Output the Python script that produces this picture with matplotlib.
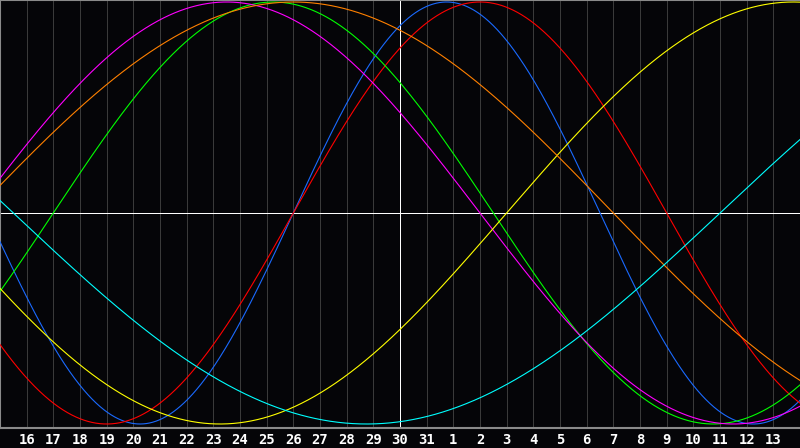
import numpy as np
import matplotlib
matplotlib.use("Agg")
import matplotlib.pyplot as plt

# biorhythm cycles: length in days, day index (0 = the 15th) where the cycle crosses zero going up
cycle_names = ["physical", "emotional", "intellectual", "intuitive", "aesthetic", "awareness", "spiritual"]
cycle_days = [23, 28, 33, 38, 43, 48, 53]
zero_day = [11, 11, 2, -1, 19, -1, 27]
cycle_colors = ["#1a6aff", "#ff0000", "#00ff00", "#ff00ff", "#ffff00", "#ff8000", "#00ffff"]

# day labels along the bottom, one per grid line
day_labels = [str(d) for d in list(range(16, 32)) + list(range(1, 14))]
today_index = 15  # day 30

px = 72 / 100  # one pixel in points

fig = plt.figure(figsize=(8, 4.48), dpi=100, facecolor="#050508")
ax = fig.add_axes([0, 20 / 448, 1, 428 / 448], facecolor="#050508")

ax.set_xlim(0, 30)
ax.set_ylim(-1 - 4 / 211, 1 + 2 / 211)

# day grid
for i in range(1, len(day_labels) + 1):
    ax.axvline(i, color="#3a3a3a", lw=px, antialiased=False, zorder=1)

# today + zero line
ax.axhline(0, color="white", lw=px, antialiased=False, zorder=2)
ax.axvline(today_index, color="white", lw=px, antialiased=False, zorder=2)

t = np.linspace(0, 30, 1601)
for name, period, z, col in zip(cycle_names, cycle_days, zero_day, cycle_colors):
    ax.plot(t, np.sin(2 * np.pi * (t - z) / period), color=col, lw=0.8, zorder=3, label=name)

for side in ["top", "left", "bottom"]:
    ax.spines[side].set_color("#8a8a8a")
    ax.spines[side].set_linewidth(1.5)
ax.spines["right"].set_visible(False)

ax.set_yticks([])
ax.set_xticks(range(1, len(day_labels) + 1))
ax.set_xticklabels(day_labels, color="white", fontsize=10, fontweight="bold",
                   family="DejaVu Sans Mono")
ax.tick_params(axis="x", length=0, pad=3.5)

fig.savefig("out.png", dpi=100, facecolor=fig.get_facecolor())
